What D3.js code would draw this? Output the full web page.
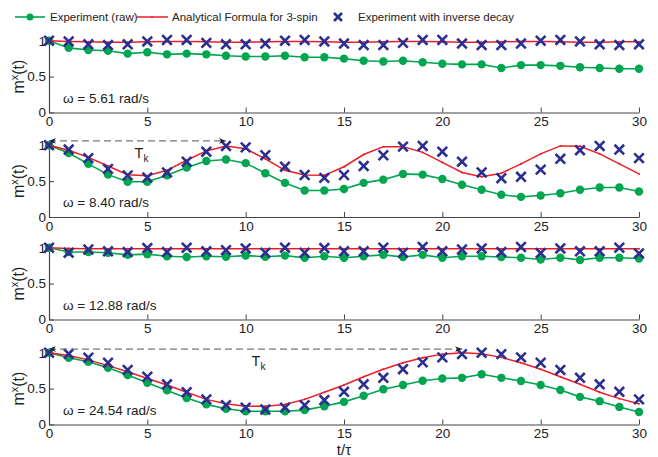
<!DOCTYPE html>
<html>
<head>
<meta charset="utf-8">
<script src="https://cdn.jsdelivr.net/npm/d3@7"></script>
<style>
  body { margin: 0; background: #fff; }
  svg { display: block; font-family: "Liberation Sans", Arial, Helvetica, sans-serif; }
</style>
</head>
<body>
<svg id="chart" width="658" height="457"></svg>
<script>
// time steps t/tau
const tSteps = [0,1,2,3,4,5,6,7,8,9,10,11,12,13,14,15,16,17,18,19,20,21,22,23,24,25,26,27,28,29,30];
const xTicks = [0, 5, 10, 15, 20, 25, 30];
const yTicks = [0, 0.5, 1];
const omegaLabels = ["ω = 5.61 rad/s", "ω = 8.40 rad/s", "ω = 12.88 rad/s", "ω = 24.54 rad/s"];
const legendLabels = ["Experiment (raw)", "Analytical Formula for 3-spin", "Experiment with inverse decay"];

// panel 1 : omega = 5.61
const raw1 = [1.0,0.90,0.87,0.86,0.82,0.84,0.81,0.82,0.81,0.79,0.78,0.78,0.79,0.77,0.77,0.75,0.72,0.71,0.72,0.70,0.68,0.67,0.67,0.62,0.66,0.66,0.65,0.63,0.62,0.61,0.61];
const theory1 = [1.0,0.99,0.985,0.98,0.98,0.985,0.99,0.99,0.985,0.98,0.98,0.985,0.99,0.99,0.985,0.98,0.98,0.985,0.99,0.99,0.985,0.98,0.98,0.985,0.99,0.99,0.985,0.98,0.98,0.985,0.985];
const inv1 = [1.0,0.99,0.95,0.94,0.95,0.99,1.01,1.01,0.97,0.95,0.95,0.96,1.0,1.01,0.99,0.96,0.94,0.94,0.97,1.01,1.01,0.96,0.94,0.94,0.96,1.0,1.01,0.99,0.95,0.94,0.95];

// panel 2 : omega = 8.40
const raw2 = [1.0,0.89,0.74,0.59,0.49,0.49,0.58,0.69,0.78,0.80,0.75,0.61,0.475,0.37,0.37,0.39,0.475,0.52,0.60,0.59,0.53,0.45,0.38,0.31,0.28,0.30,0.33,0.38,0.41,0.41,0.355];
const theory2 = [1.0,0.93,0.83,0.71,0.59,0.576,0.65,0.79,0.92,0.99,0.95,0.81,0.65,0.585,0.58,0.70,0.87,0.98,0.98,0.90,0.76,0.62,0.56,0.61,0.74,0.88,0.99,0.985,0.88,0.74,0.60];
const inv2 = [1.0,0.94,0.82,0.67,0.58,0.55,0.62,0.77,0.91,0.99,0.97,0.86,0.70,0.585,0.545,0.585,0.71,0.86,0.98,0.99,0.91,0.77,0.62,0.54,0.56,0.66,0.81,0.93,0.99,0.94,0.82];

// panel 3 : omega = 12.88
const raw3 = [1.0,0.94,0.94,0.93,0.90,0.91,0.88,0.87,0.88,0.875,0.89,0.875,0.89,0.86,0.88,0.86,0.88,0.90,0.87,0.90,0.86,0.88,0.88,0.87,0.86,0.835,0.86,0.83,0.86,0.86,0.85];
const theory3 = [1.0,0.99,0.985,0.985,0.985,0.985,0.985,0.985,0.985,0.985,0.985,0.985,0.985,0.985,0.985,0.985,0.985,0.985,0.985,0.985,0.985,0.985,0.985,0.985,0.985,0.985,0.985,0.985,0.985,0.985,0.985];
const inv3 = [1.0,0.93,0.975,0.95,0.94,0.995,0.94,1.0,0.95,0.965,0.99,0.93,1.0,0.93,0.995,0.95,0.95,1.0,0.93,1.01,0.95,0.975,0.99,0.94,1.01,0.925,0.99,0.95,0.95,1.0,0.92];

// panel 4 : omega = 24.54
const raw4 = [1.0,0.93,0.875,0.79,0.69,0.58,0.475,0.37,0.28,0.22,0.185,0.185,0.185,0.20,0.255,0.315,0.40,0.49,0.55,0.61,0.64,0.65,0.70,0.65,0.605,0.55,0.48,0.385,0.325,0.245,0.175];
const theory4 = [1.0,0.96,0.90,0.82,0.735,0.64,0.55,0.45,0.35,0.29,0.255,0.255,0.28,0.35,0.45,0.55,0.665,0.77,0.86,0.93,0.98,1.0,0.985,0.935,0.86,0.77,0.665,0.56,0.45,0.36,0.29];
const inv4 = [1.0,0.985,0.93,0.86,0.76,0.665,0.56,0.45,0.35,0.27,0.235,0.21,0.235,0.27,0.34,0.455,0.56,0.65,0.77,0.865,0.935,0.98,1.0,0.98,0.935,0.86,0.76,0.65,0.56,0.455,0.35];

// T_k arrows (panel index, end of period, height)
const periodArrows = [
  { panel: 1, t1: 9, level: 1.06, labelT: 4.35 },
  { panel: 3, t1: 21, level: 1.05, labelT: 10.3 }
];

const panels = [
  { raw: raw1, theory: theory1, inv: inv1 },
  { raw: raw2, theory: theory2, inv: inv2 },
  { raw: raw3, theory: theory3, inv: inv3 },
  { raw: raw4, theory: theory4, inv: inv4 }
];

const green = "#00a550", red = "#ee1c25", blue = "#2b2f8f";
const left = 49, right = 639;
const bottoms = [112.5, 217, 319.5, 424.5];
const unitH = 71.8;

const svg = d3.select("#chart");

svg.append("defs").call(d => {
  d.append("marker").attr("id", "ahEnd")
    .attr("viewBox", "0 0 10 10").attr("refX", 10).attr("refY", 5)
    .attr("markerWidth", 9).attr("markerHeight", 7).attr("markerUnits", "userSpaceOnUse")
    .attr("orient", "auto")
    .append("path").attr("d", "M0,1 L10,5 L0,9 L3,5 Z").attr("fill", "#222");
  d.append("marker").attr("id", "ahStart")
    .attr("viewBox", "0 0 10 10").attr("refX", 0).attr("refY", 5)
    .attr("markerWidth", 9).attr("markerHeight", 7).attr("markerUnits", "userSpaceOnUse")
    .attr("orient", "auto")
    .append("path").attr("d", "M10,1 L0,5 L10,9 L7,5 Z").attr("fill", "#222");
});

const x = d3.scaleLinear().domain([0, 30]).range([left, right]);

panels.forEach((p, k) => {
  const y = d3.scaleLinear().domain([0, 1]).range([bottoms[k], bottoms[k] - unitH]);
  const g = svg.append("g");

  // axes
  g.append("g")
    .attr("transform", `translate(0,${bottoms[k]})`)
    .call(d3.axisBottom(x).tickValues(xTicks).tickSizeInner(-5).tickSizeOuter(0).tickPadding(4))
    .call(a => a.select(".domain").attr("stroke", "#444").attr("stroke-width", 1.2))
    .call(a => a.selectAll(".tick line").attr("stroke", "#444"))
    .call(a => a.selectAll(".tick text").attr("font-size", 13.5).attr("fill", "#222").attr("font-family", "Liberation Sans, Arial, sans-serif"));

  g.append("g")
    .attr("transform", `translate(${left},0)`)
    .call(d3.axisLeft(y).tickValues(yTicks).tickFormat(d3.format("")).tickSizeInner(-5).tickSizeOuter(0).tickPadding(3))
    .call(a => a.select(".domain").attr("stroke", "#444").attr("stroke-width", 1.2))
    .call(a => a.selectAll(".tick line").attr("stroke", "#444"))
    .call(a => a.selectAll(".tick text").attr("font-size", 13.5).attr("fill", "#222").attr("font-family", "Liberation Sans, Arial, sans-serif"));

  // y label m^x(t)
  const yl = g.append("text")
    .attr("transform", `translate(24,${bottoms[k] - unitH / 2}) rotate(-90)`)
    .attr("text-anchor", "middle")
    .attr("font-size", 16).attr("fill", "#222");
  yl.append("tspan").text("m");
  yl.append("tspan").attr("dy", -6).attr("font-size", 11).text("x");
  yl.append("tspan").attr("dy", 6).text("(t)");

  // omega label
  g.append("text")
    .attr("x", 63).attr("y", bottoms[k] - 10)
    .attr("font-size", 13.5).attr("fill", "#222")
    .text(omegaLabels[k]);

  const line = d3.line().x((d, i) => x(tSteps[i])).y(d => y(d));

  // green raw experiment
  g.append("path").attr("d", line(p.raw))
    .attr("fill", "none").attr("stroke", green).attr("stroke-width", 1.6);
  g.selectAll(".raw").data(p.raw).join("circle")
    .attr("cx", (d, i) => x(tSteps[i])).attr("cy", d => y(d))
    .attr("r", 4.2).attr("fill", green);

  // red analytical
  g.append("path").attr("d", line(p.theory))
    .attr("fill", "none").attr("stroke", red).attr("stroke-width", 1.5);
  g.selectAll(".th").data(p.theory).join("circle")
    .attr("cx", (d, i) => x(tSteps[i])).attr("cy", d => y(d))
    .attr("r", 1).attr("fill", red);

  // blue crosses
  const s = 4.8;
  g.selectAll(".inv").data(p.inv).join("path")
    .attr("d", (d, i) => {
      const cx = x(tSteps[i]), cy = y(d);
      return `M${cx - s},${cy - s}L${cx + s},${cy + s}M${cx - s},${cy + s}L${cx + s},${cy - s}`;
    })
    .attr("stroke", blue).attr("stroke-width", 2.6).attr("fill", "none");

  // period arrows
  periodArrows.filter(a => a.panel === k).forEach(a => {
    g.append("line")
      .attr("x1", x(0)).attr("x2", x(a.t1))
      .attr("y1", y(a.level)).attr("y2", y(a.level))
      .attr("stroke", "#777").attr("stroke-width", 1.3)
      .attr("stroke-dasharray", "7,4")
      .attr("marker-start", "url(#ahStart)").attr("marker-end", "url(#ahEnd)");
    const tk = g.append("text")
      .attr("x", x(a.labelT)).attr("y", y(a.level) + 17)
      .attr("font-size", 14.5).attr("fill", "#222");
    tk.append("tspan").text("T");
    tk.append("tspan").attr("dy", 4).attr("font-size", 10).text("k");
  });
});

// x label
const xl = svg.append("text")
  .attr("x", (left + right) / 2).attr("y", 455)
  .attr("text-anchor", "middle").attr("font-size", 15).attr("fill", "#222");
xl.text("t/τ");

// legend
const lg = svg.append("g").attr("font-size", 11.5).attr("fill", "#222");
lg.append("line").attr("x1", 15).attr("x2", 45).attr("y1", 17).attr("y2", 17)
  .attr("stroke", green).attr("stroke-width", 1.6);
lg.append("circle").attr("cx", 30).attr("cy", 17).attr("r", 3.5).attr("fill", green);
lg.append("text").attr("x", 50).attr("y", 21).text(legendLabels[0]);
lg.append("line").attr("x1", 137).attr("x2", 168).attr("y1", 17).attr("y2", 17)
  .attr("stroke", red).attr("stroke-width", 1.5);
lg.append("circle").attr("cx", 152).attr("cy", 17).attr("r", 1).attr("fill", red);
lg.append("text").attr("x", 172).attr("y", 21).text(legendLabels[1]);
lg.append("path").attr("d", "M334,13L342,21M334,21L342,13")
  .attr("stroke", blue).attr("stroke-width", 2.6);
lg.append("text").attr("x", 358).attr("y", 21).text(legendLabels[2]);
</script>
</body>
</html>
